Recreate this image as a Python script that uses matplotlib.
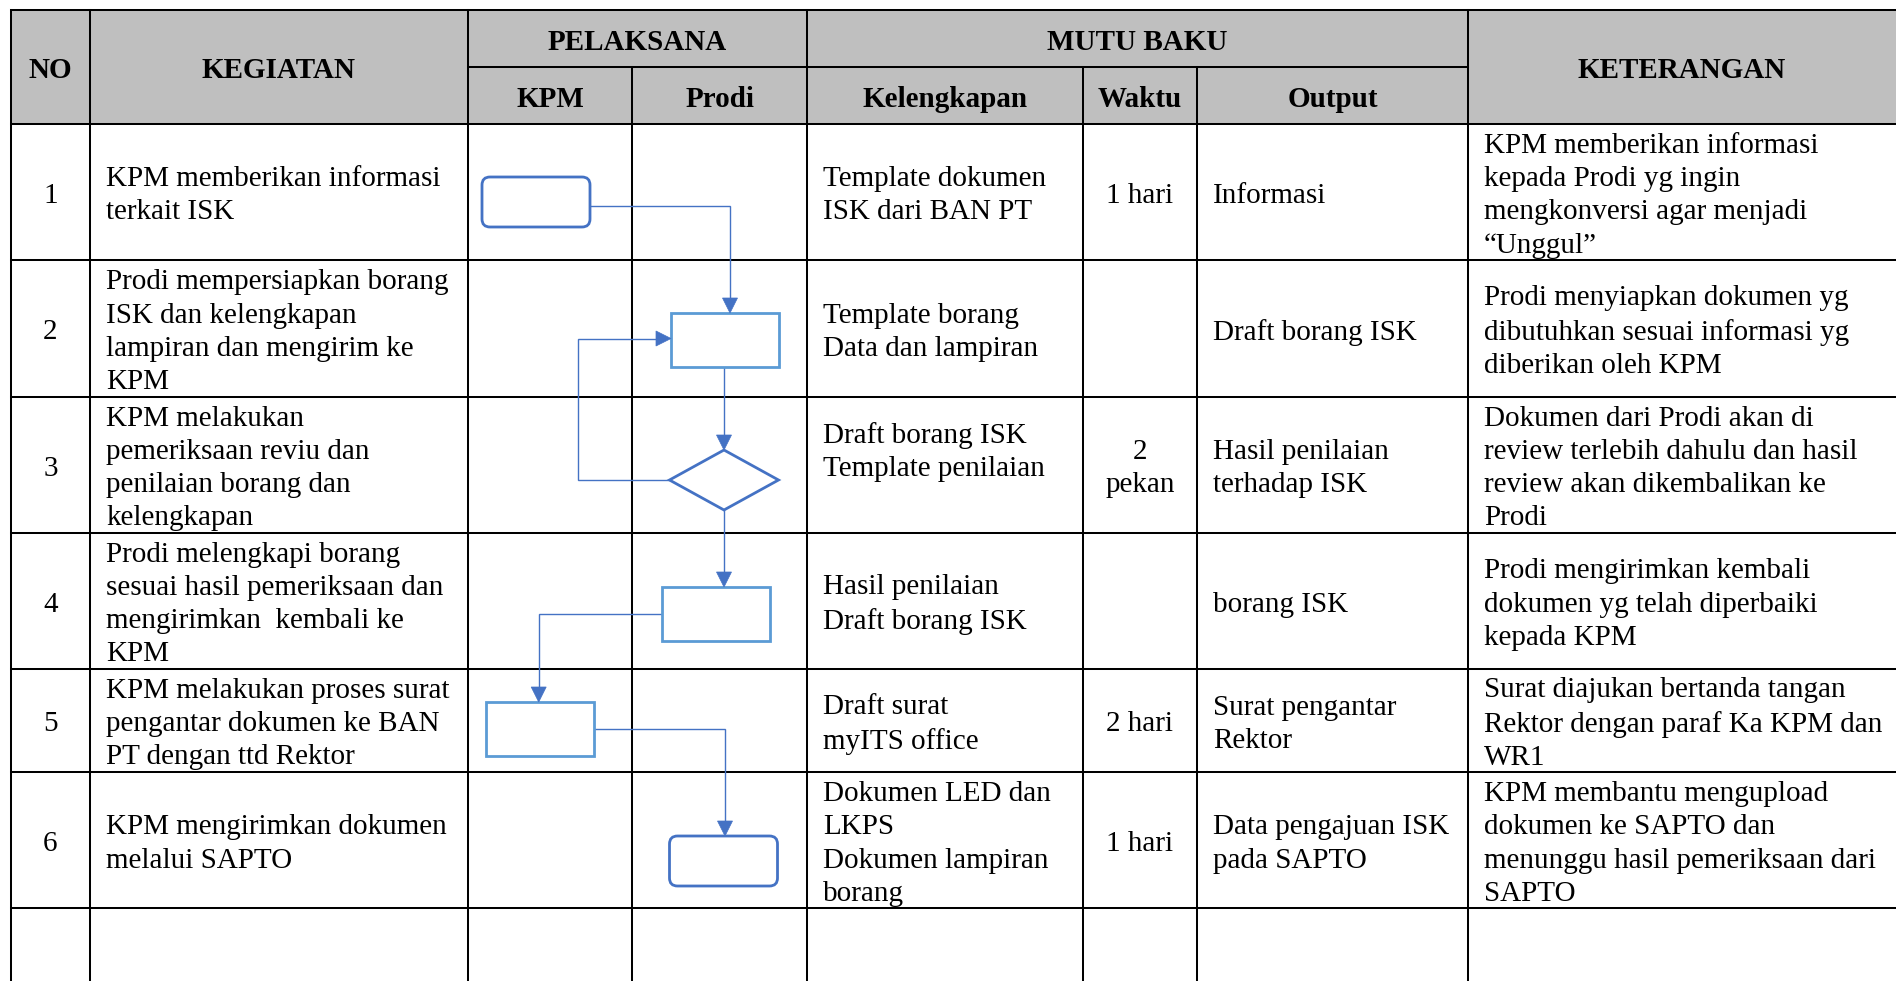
import matplotlib
matplotlib.use("Agg")
import matplotlib.pyplot as plt
from matplotlib.patches import Rectangle, FancyBboxPatch, Polygon

# ---------------- data ----------------
HEAD_TOP = ["NO", "KEGIATAN", "PELAKSANA", "MUTU BAKU", "KETERANGAN"]
HEAD_SUB = ["KPM", "Prodi", "Kelengkapan", "Waktu", "Output"]

NO = ["1", "2", "3", "4", "5", "6"]
KEGIATAN = [
    "KPM memberikan informasi\nterkait ISK",
    "Prodi mempersiapkan borang\nISK dan kelengkapan\nlampiran dan mengirim ke\nKPM",
    "KPM melakukan\npemeriksaan reviu dan\npenilaian borang dan\nkelengkapan",
    "Prodi melengkapi borang\nsesuai hasil pemeriksaan dan\nmengirimkan  kembali ke\nKPM",
    "KPM melakukan proses surat\npengantar dokumen ke BAN\nPT dengan ttd Rektor",
    "KPM mengirimkan dokumen\nmelalui SAPTO",
]
KELENGKAPAN = [
    "Template dokumen\nISK dari BAN PT",
    "Template borang\nData dan lampiran",
    "Draft borang ISK\nTemplate penilaian\n ",
    "Hasil penilaian\nDraft borang ISK",
    "Draft surat\nmyITS office",
    "Dokumen LED dan\nLKPS\nDokumen lampiran\nborang",
]
WAKTU = ["1 hari", "", "2\npekan", "", "2 hari", "1 hari"]
OUTPUT = [
    "Informasi",
    "Draft borang ISK",
    "Hasil penilaian\nterhadap ISK",
    "borang ISK",
    "Surat pengantar\nRektor",
    "Data pengajuan ISK\npada SAPTO",
]
KETERANGAN = [
    "KPM memberikan informasi\nkepada Prodi yg ingin\nmengkonversi agar menjadi\n\u201cUnggul\u201d",
    "Prodi menyiapkan dokumen yg\ndibutuhkan sesuai informasi yg\ndiberikan oleh KPM",
    "Dokumen dari Prodi akan di\nreview terlebih dahulu dan hasil\nreview akan dikembalikan ke\nProdi",
    "Prodi mengirimkan kembali\ndokumen yg telah diperbaiki\nkepada KPM",
    "Surat diajukan bertanda tangan\nRektor dengan paraf Ka KPM dan\nWR1",
    "KPM membantu mengupload\ndokumen ke SAPTO dan\nmenunggu hasil pemeriksaan dari\nSAPTO",
]
# flowchart: lane and shape of each step
LANE = ["KPM", "Prodi", "Prodi", "Prodi", "KPM", "Prodi"]
SHAPE = ["terminal", "process", "decision", "process", "process", "terminal"]

# ---------------- layout (pixels) ----------------
W, H = 1896, 981
COLX = [11, 90, 468, 632.5, 807, 1083, 1197, 1468, 1900]
ROWY = [10, 67, 123.5, 260, 396.5, 532.5, 668.5, 772, 908, 990]
PAD = 16
DY = 4
FS = 21
LS = 1.36
FONT = ["Liberation Serif", "DejaVu Serif"]
LINE_W = 1.45
HEAD_BG = "#BFBFBF"
DARK = "#4472C4"
LIGHT = "#5B9BD5"

# node geometry: center x, center y, width, height (pixels)
NODE_GEOM = [
    (536, 202, 108, 50),
    (725, 340, 108, 54),
    (724, 480, 109, 60),
    (716, 614, 108, 54),
    (540.5, 729, 108, 54),
    (723.5, 861, 108, 50),
]

fig = plt.figure(figsize=(W / 100, H / 100), dpi=100)
ax = fig.add_axes([0, 0, 1, 1])
ax.set_xlim(0, W)
ax.set_ylim(H, 0)
ax.axis("off")

# header background
ax.add_patch(Rectangle((COLX[0], ROWY[0]), COLX[-1] - COLX[0], ROWY[2] - ROWY[0],
                       facecolor=HEAD_BG, edgecolor="none", zorder=0))

def hline(y, x0, x1):
    ax.plot([x0, x1], [y, y], color="black", lw=LINE_W, solid_capstyle="projecting", zorder=2)

def vline(x, y0, y1):
    ax.plot([x, x], [y0, y1], color="black", lw=LINE_W, solid_capstyle="projecting", zorder=2)

# horizontal grid lines
hline(ROWY[0], COLX[0], COLX[-1])
hline(ROWY[1], COLX[2], COLX[7])
for y in ROWY[2:-1]:
    hline(y, COLX[0], COLX[-1])
# vertical grid lines
for i in [0, 1, 2, 4, 7]:
    vline(COLX[i], ROWY[0], ROWY[-1])
for i in [3, 5, 6]:
    vline(COLX[i], ROWY[1], ROWY[-1])

def txt(x, y, s, ha="left", bold=False):
    ax.text(x, y + DY, s, ha=ha, va="center", fontsize=FS, family=FONT,
            fontweight="bold" if bold else "normal", linespacing=LS,
            color="black", zorder=3)

# header texts
cy_full = (ROWY[0] + ROWY[2]) / 2
cy_top = (ROWY[0] + ROWY[1]) / 2
cy_sub = (ROWY[1] + ROWY[2]) / 2
txt((COLX[0] + COLX[1]) / 2, cy_full, HEAD_TOP[0], "center", True)
txt((COLX[1] + COLX[2]) / 2, cy_full, HEAD_TOP[1], "center", True)
txt((COLX[2] + COLX[4]) / 2, cy_top, HEAD_TOP[2], "center", True)
txt((COLX[4] + COLX[7]) / 2, cy_top, HEAD_TOP[3], "center", True)
txt((COLX[7] + 1896) / 2, cy_full, HEAD_TOP[4], "center", True)
for k, i in enumerate([2, 3, 4, 5, 6]):
    txt((COLX[i] + COLX[i + 1]) / 2, cy_sub, HEAD_SUB[k], "center", True)

# body texts
for r in range(len(NO)):
    cy = (ROWY[r + 2] + ROWY[r + 3]) / 2
    txt((COLX[0] + COLX[1]) / 2, cy, NO[r], "center")
    txt(COLX[1] + PAD, cy, KEGIATAN[r])
    txt(COLX[4] + PAD, cy, KELENGKAPAN[r])
    if WAKTU[r]:
        txt((COLX[5] + COLX[6]) / 2, cy, WAKTU[r], "center")
    txt(COLX[6] + PAD, cy, OUTPUT[r])
    txt(COLX[7] + PAD, cy, KETERANGAN[r])

# ---------------- flowchart ----------------
for shape, (cx, cy, w, h) in zip(SHAPE, NODE_GEOM):
    if shape == "terminal":
        ax.add_patch(FancyBboxPatch((cx - w / 2 + 8, cy - h / 2 + 8), w - 16, h - 16,
                                    boxstyle="round,pad=8", facecolor="white",
                                    edgecolor=DARK, lw=2.0, zorder=4))
    elif shape == "process":
        ax.add_patch(Rectangle((cx - w / 2, cy - h / 2), w, h, facecolor="white",
                               edgecolor=LIGHT, lw=2.0, zorder=4))
    else:
        ax.add_patch(Polygon([(cx, cy - h / 2), (cx + w / 2, cy), (cx, cy + h / 2), (cx - w / 2, cy)],
                             closed=True, facecolor="white", edgecolor=DARK, lw=2.0, zorder=4))

def connector(pts, direction):
    xs = [p[0] for p in pts]
    ys = [p[1] for p in pts]
    tx, ty = pts[-1]
    L, Wd = 15, 7.5
    if direction == "down":
        xs[-1], ys[-1] = tx, ty - L
        tri = [(tx, ty), (tx - Wd, ty - L), (tx + Wd, ty - L)]
    else:
        xs[-1], ys[-1] = tx - L, ty
        tri = [(tx, ty), (tx - L, ty - Wd), (tx - L, ty + Wd)]
    ax.plot(xs, ys, color=DARK, lw=1.0, zorder=3.5, solid_joinstyle="miter")
    ax.add_patch(Polygon(tri, closed=True, facecolor=DARK, edgecolor=DARK, lw=0.5, zorder=5))

g = NODE_GEOM
connector([(g[0][0] + g[0][2] / 2, 205.5), (730, 205.5), (730, g[1][1] - g[1][3] / 2)], "down")
connector([(g[1][0] - 1, g[1][1] + g[1][3] / 2), (g[2][0], g[2][1] - g[2][3] / 2)], "down")
connector([(g[2][0] - g[2][2] / 2, g[2][1]), (578.5, g[2][1]), (578.5, 338.5),
           (g[1][0] - g[1][2] / 2, 338.5)], "right")
connector([(g[2][0], g[2][1] + g[2][3] / 2), (g[2][0], g[3][1] - g[3][3] / 2)], "down")
connector([(g[3][0] - g[3][2] / 2, g[3][1]), (538.7, g[3][1]), (538.7, g[4][1] - g[4][3] / 2)], "down")
connector([(g[4][0] + g[4][2] / 2, g[4][1]), (725, g[4][1]), (725, g[5][1] - g[5][3] / 2)], "down")

fig.savefig("out.png", dpi=100, facecolor="white")
